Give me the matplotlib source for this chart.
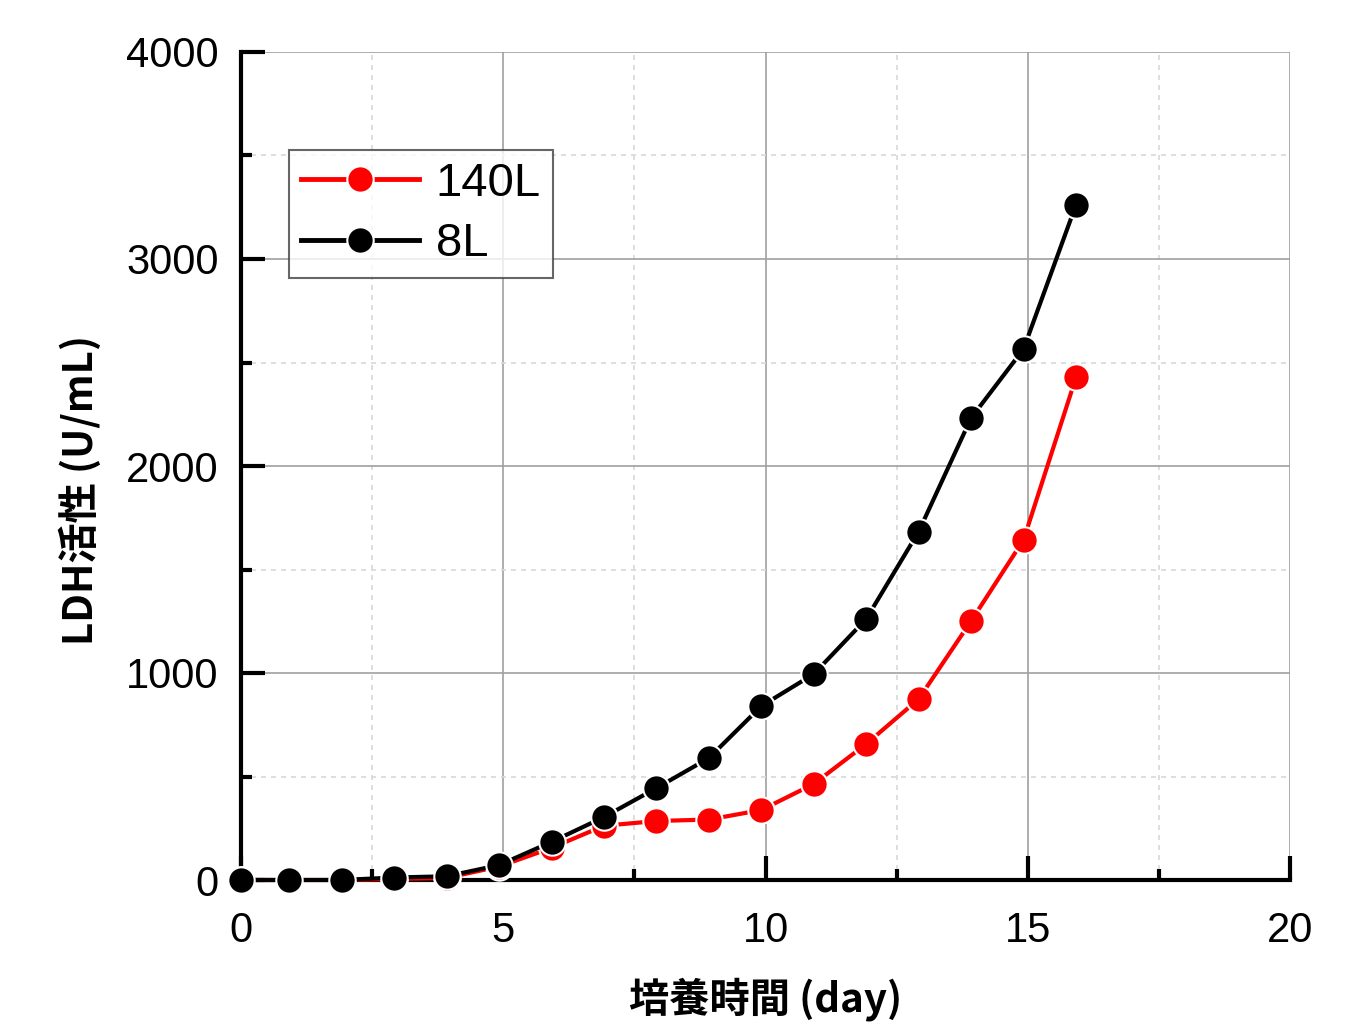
import matplotlib
matplotlib.use("Agg")
import matplotlib.pyplot as plt
from matplotlib.ticker import MultipleLocator

plt.rcParams['font.family'] = ['Liberation Sans', 'Noto Sans CJK JP', 'DejaVu Sans']

days = [0, 0.92, 1.92, 2.92, 3.92, 4.92, 5.92, 6.92, 7.92, 8.92, 9.92,
        10.92, 11.92, 12.92, 13.92, 14.92, 15.92]
ldh_140L = [0, 0, 0, 5, 10, 65, 155, 262, 285, 292, 338, 464, 657, 874, 1251, 1643, 2428]
ldh_8L = [0, 0, 0, 12, 18, 72, 184, 304, 444, 589, 840, 995, 1261, 1683, 2232, 2565, 3262]

xlabel = "培養時間 (day)"
ylabel = "LDH活性 (U/mL)"

fig = plt.figure(figsize=(13.61, 10.24), dpi=100)
ax = fig.add_axes([241/1361, 1-880/1024, (1290-241)/1361, (880-52)/1024])

ax.plot(days, ldh_140L, color='#ff0000', lw=3, marker='o', ms=19,
        mec='white', mew=1.5, label='140L', zorder=3, clip_on=False)
ax.plot(days, ldh_8L, color='black', lw=3, marker='o', ms=19,
        mec='white', mew=1.5, label='8L', zorder=4, clip_on=False)

ax.set_xlim(0, 20)
ax.set_ylim(0, 4000)
ax.xaxis.set_major_locator(MultipleLocator(5))
ax.xaxis.set_minor_locator(MultipleLocator(2.5))
ax.yaxis.set_major_locator(MultipleLocator(1000))
ax.yaxis.set_minor_locator(MultipleLocator(500))

ax.grid(which='major', color='#a0a0a0', lw=1.2, ls='-')
ax.grid(which='minor', color='#d8d8d8', lw=1.2, ls=(0, (3, 3)))
ax.set_axisbelow(True)

for s in ['top', 'right']:
    ax.spines[s].set_visible(False)
for s in ['left', 'bottom']:
    ax.spines[s].set_linewidth(3)

ax.tick_params(which='major', direction='in', length=17, width=3, labelsize=30, pad=16)
ax.tick_params(which='minor', direction='in', length=8, width=3)
ax.tick_params(axis='x', pad=22)

ax.set_xlabel(xlabel, fontsize=29, fontweight='bold', family=['Noto Sans CJK JP'], labelpad=19)
ax.set_ylabel(ylabel, fontsize=29, fontweight='bold', family=['Noto Sans CJK JP'])
ax.yaxis.set_label_coords(-0.133, 0.471)

leg = ax.legend(loc='upper left', bbox_to_anchor=(0.046, 0.882), fontsize=34,
                frameon=True, fancybox=False, edgecolor='#404040',
                handlelength=2.5, handletextpad=0.35, borderpad=0.25,
                labelspacing=0.35, borderaxespad=0)
leg.get_frame().set_linewidth(1.5)
for line in leg.get_lines():
    line.set_linewidth(3.5)

fig.savefig('out.png', dpi=100)
